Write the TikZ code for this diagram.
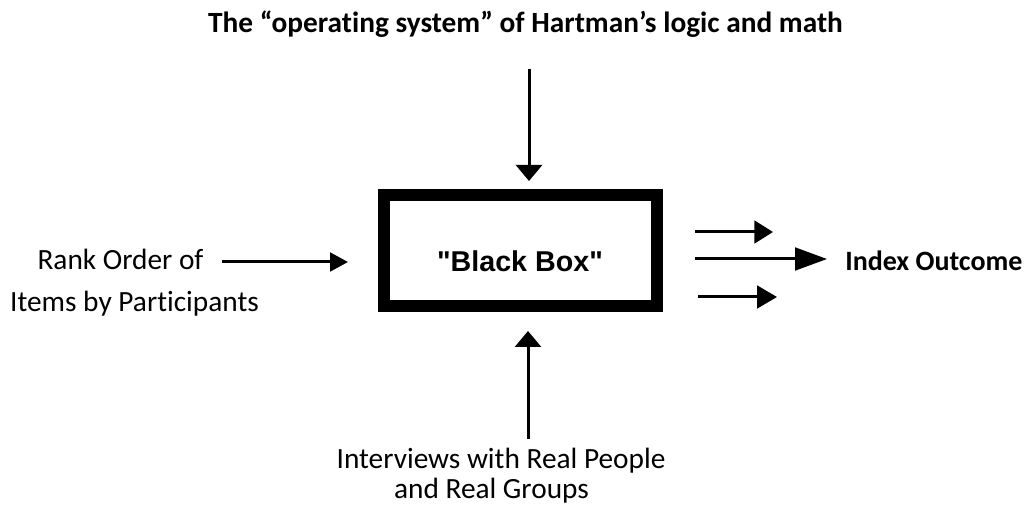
\documentclass[tikz,border=0pt]{standalone}
\usepackage{fontspec}
\setmainfont{Carlito}[RawFeature={-liga;-clig;-calt;-dlig}]
\newfontfamily\arialfont{Liberation Sans}
\usetikzlibrary{arrows.meta}
\tikzset{
  conn/.style={line width=2.25pt},
  lbl/.style={inner sep=0pt, anchor=base, font=\fontsize{22}{26}\selectfont},
  blbl/.style={lbl, font=\fontsize{22}{26}\selectfont\bfseries},
  bbox/.style={draw, line width=9pt, minimum width=204.4pt, minimum height=82.9pt, inner sep=0pt, outer sep=0pt},
}
\begin{document}
\begin{tikzpicture}[x=0.75pt, y=-0.75pt]
\useasboundingbox (0,0) rectangle (1034,505);
% box
\node[bbox] (bb) at (520.75,250.25) {};
\node[inner sep=0pt, anchor=base, font=\arialfont\bfseries\fontsize{21.5}{25}\selectfont] (bbt) at (520,272) {"Black Box"};
% labels
\node[blbl] (title) at (525.5,33) {The “operating system” of Hartman’s logic and math};
\node[blbl, anchor=base west, font=\fontsize{21}{25}\selectfont\bfseries] (out) at (845,271) {Index Outcome};
\node[lbl] (rank1) at (120.5,270) {Rank Order of};
\node[lbl] (rank2) at (134.5,312) {Items by Participants};
\node[lbl] (int1) at (501,468) {Interviews with Real People};
\node[lbl] (int2) at (491.5,498) {and Real Groups};
% coordinates
\coordinate (ts) at (529,69);
\coordinate (te) at (529,181);
\coordinate (bs) at (528,439);
\coordinate (be) at (528,331);
\coordinate (ls) at (222,262);
\coordinate (le) at (348,262);
\coordinate (r1s) at (695,232);
\coordinate (r1e) at (773,232);
\coordinate (r2s) at (695,259);
\coordinate (r2e) at (827,259);
\coordinate (r3s) at (698,297);
\coordinate (r3e) at (777,297);
% arrows
\draw[conn, -{Triangle[length=12pt, width=19.5pt]}] (ts) -- (te);
\draw[conn, -{Triangle[length=12pt, width=19.5pt]}] (bs) -- (be);
\draw[conn, -{Triangle[length=13.5pt, width=14pt]}] (ls) -- (le);
\draw[conn, -{Triangle[length=14pt, width=17pt]}] (r1s) -- (r1e);
\draw[conn, -{Triangle[length=24pt, width=17pt]}] (r2s) -- (r2e);
\draw[conn, -{Triangle[length=15pt, width=17pt]}] (r3s) -- (r3e);
\end{tikzpicture}
\end{document}
